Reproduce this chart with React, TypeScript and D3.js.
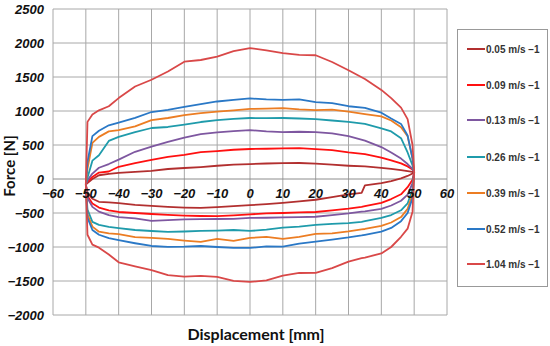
import React from "react";
import * as d3 from "d3";

const X_TICKS = [-60, -50, -40, -30, -20, -10, 0, 10, 20, 30, 40, 50, 60];
const Y_TICKS = [-2000, -1500, -1000, -500, 0, 500, 1000, 1500, 2000, 2500];

const X_UP = [-50, -49.5, -48, -46, -43, -40, -35, -30, -25, -20, -15, -10, -5, 0, 5, 10, 15, 20, 25, 30, 35, 40, 43, 46, 48, 49.5, 50];
const X_LO = [-50, -49.5, -48, -46, -43, -40, -35, -30, -25, -20, -15, -10, -5, 0, 5, 10, 15, 20, 25, 30, 34, 35, 40, 43, 46, 48, 49.5, 50];

const SERIES_NAMES = ["0.05 m/s −1", "0.09 m/s −1", "0.13 m/s −1", "0.26 m/s −1", "0.39 m/s −1", "0.52 m/s −1", "1.04 m/s −1"];
const SERIES_COLORS = ["#b22f2f", "#ff1010", "#7e57a0", "#1f9bab", "#ec7d23", "#2a78c6", "#d94848"];

const UP_005 = [-80, -60, 0, 55, 75, 90, 105, 118, 147, 162, 176, 195, 210, 220, 228, 232, 235, 225, 210, 195, 185, 165, 150, 130, 115, 105, 100];
const UP_009 = [-80, -40, 30, 95, 110, 180, 235, 282, 325, 355, 395, 410, 430, 441, 445, 450, 455, 440, 425, 392, 365, 315, 275, 230, 185, 140, 100];
const UP_013 = [-80, -20, 80, 165, 220, 285, 400, 475, 545, 610, 660, 685, 705, 720, 700, 690, 695, 690, 670, 630, 565, 470, 390, 300, 220, 150, 100];
const UP_026 = [-80, 20, 270, 350, 560, 620, 690, 750, 765, 800, 838, 867, 885, 897, 895, 897, 890, 880, 860, 840, 810, 745, 700, 600, 390, 200, 100];
const UP_039 = [-80, 150, 530, 620, 700, 720, 775, 865, 897, 940, 970, 990, 1010, 1030, 1035, 1043, 1025, 1014, 1020, 990, 955, 920, 860, 760, 630, 300, 100];
const UP_052 = [-80, 250, 630, 710, 790, 830, 900, 985, 1015, 1060, 1100, 1140, 1165, 1185, 1170, 1165, 1170, 1130, 1115, 1070, 1045, 975, 890, 810, 640, 300, 100];
const UP_104 = [-80, 840, 950, 1010, 1070, 1190, 1360, 1460, 1580, 1725, 1750, 1800, 1880, 1926, 1890, 1850, 1825, 1820, 1720, 1600, 1470, 1310, 1190, 1050, 880, 500, 100];

const LO_005 = [-80, -200, -290, -335, -345, -355, -380, -395, -410, -420, -425, -415, -400, -385, -370, -350, -330, -305, -265, -225, -205, -95, -60, -30, 10, 45, 80, 100];
const LO_009 = [-80, -250, -360, -420, -460, -485, -500, -515, -529, -538, -544, -546, -535, -520, -505, -500, -492, -485, -460, -435, -410, -400, -350, -295, -225, -120, -10, 100];
const LO_013 = [-80, -280, -410, -480, -530, -560, -580, -615, -605, -595, -590, -588, -585, -573, -570, -565, -560, -555, -530, -505, -480, -475, -440, -390, -320, -230, -60, 100];
const LO_026 = [-80, -450, -630, -675, -705, -722, -750, -765, -779, -772, -764, -758, -750, -764, -745, -715, -700, -675, -660, -650, -630, -620, -570, -530, -460, -360, -150, 100];
const LO_039 = [-80, -520, -700, -775, -800, -810, -855, -867, -882, -905, -926, -882, -911, -867, -850, -880, -850, -808, -800, -770, -740, -735, -690, -640, -560, -440, -220, 100];
const LO_052 = [-80, -570, -750, -820, -870, -900, -945, -985, -999, -995, -985, -1000, -1014, -1014, -990, -995, -950, -920, -890, -860, -830, -820, -775, -720, -620, -500, -280, 100];
const LO_104 = [-80, -820, -965, -1010, -1110, -1225, -1285, -1340, -1415, -1435, -1426, -1440, -1499, -1514, -1490, -1420, -1382, -1380, -1310, -1215, -1165, -1155, -1095, -1000, -850, -730, -480, 100];

const UPPER = [UP_005, UP_009, UP_013, UP_026, UP_039, UP_052, UP_104];
const LOWER = [LO_005, LO_009, LO_013, LO_026, LO_039, LO_052, LO_104];

const W = 550;
const H = 346;

function fmt(v: number): string {
  return v < 0 ? "\u2212" + Math.abs(v) : String(v);
}

export default function App() {
  const x = d3.scaleLinear().domain([-60, 60]).range([53, 447]);
  const y = d3.scaleLinear().domain([-2000, 2500]).range([315, 9]);
  const line = d3
    .line<[number, number]>()
    .x((d) => x(d[0]))
    .y((d) => y(d[1]))
    .curve(d3.curveLinear);

  const loops = SERIES_NAMES.map((_, i) => {
    const up: [number, number][] = X_UP.map((xv, j) => [xv, UPPER[i][j]]);
    const lo: [number, number][] = X_LO.map((xv, j) => [xv, LOWER[i][j]]).reverse() as [number, number][];
    return up.concat(lo);
  });

  const tickFont = {
    fontFamily: "'Liberation Sans', Arial, sans-serif",
    fontWeight: 700,
    fontStyle: "italic",
    fontSize: 13,
    fill: "#111",
  } as const;

  const titleFont = { fontFamily: "Lato, 'Open Sans', sans-serif", fontWeight: 700, fontSize: 16, fill: "#111" } as const;

  const legendY = [49, 85, 120, 157, 193, 229, 264];

  return (
    <div style={{ position: "absolute", left: 0, top: 0 }}>
      <svg width={W} height={H} style={{ display: "block", background: "#fff" }}>
        <g>
          {X_TICKS.map((t) => (
            <line key={"gx" + t} x1={x(t)} x2={x(t)} y1={y(2500)} y2={y(-2000)} stroke="#a8a8a8" strokeWidth={1} />
          ))}
          {Y_TICKS.map((t) => (
            <line key={"gy" + t} x1={x(-60)} x2={x(60)} y1={y(t)} y2={y(t)} stroke={t === 0 ? "#8c8c8c" : "#a8a8a8"} strokeWidth={1} />
          ))}
        </g>
        <g>
          {loops.map((pts, i) => (
            <path key={"s" + i} d={line(pts) || ""} fill="none" stroke={SERIES_COLORS[i]} strokeWidth={1.8} strokeLinejoin="round" />
          ))}
        </g>
        <g>
          {Y_TICKS.map((t) => (
            <text key={"ty" + t} x={44} y={y(t)} dy="0.36em" textAnchor="end" style={tickFont}>
              {fmt(t)}
            </text>
          ))}
          {X_TICKS.map((t) => (
            <text key={"tx" + t} x={x(t)} y={193} dy="0.36em" textAnchor="middle" style={tickFont}>
              {fmt(t)}
            </text>
          ))}
        </g>
        <text transform={`translate(15,166) rotate(-90)`} textAnchor="middle" style={{ ...titleFont, fontSize: 15 }}>
          Force [N]
        </text>
        <text x={256} y={340} textAnchor="middle" style={titleFont}>
          Displacement [mm]
        </text>
        <g>
          <rect x={457.5} y={29.5} width={90} height={257} fill="#fff" stroke="#999" strokeWidth={1} />
          {SERIES_NAMES.map((n, i) => (
            <g key={"lg" + i}>
              <line x1={467} x2={485} y1={legendY[i]} y2={legendY[i]} stroke={SERIES_COLORS[i]} strokeWidth={2} />
              <text
                x={486}
                y={legendY[i]}
                dy="0.36em"
                style={{ fontFamily: "'Liberation Sans', Arial, sans-serif", fontWeight: 700, fontSize: 10, fill: "#333" }}
              >
                {n}
              </text>
            </g>
          ))}
        </g>
      </svg>
    </div>
  );
}
